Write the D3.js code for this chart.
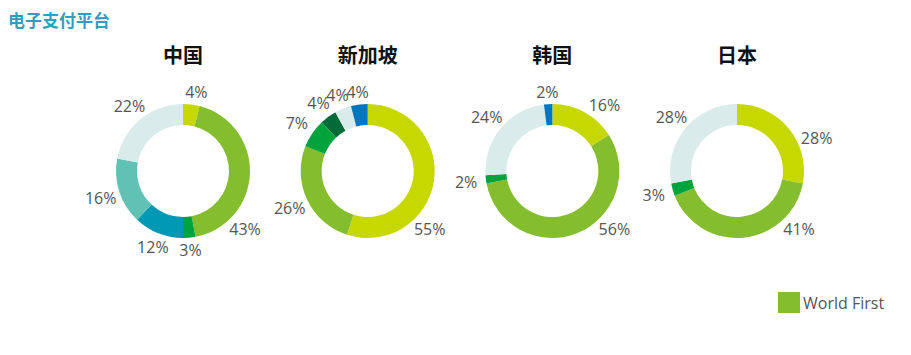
<!DOCTYPE html>
<html>
<head>
<meta charset="utf-8">
<script src="https://cdn.jsdelivr.net/npm/d3@7"></script>
<style>
  html, body { margin: 0; padding: 0; background: #ffffff; }
  svg { display: block; }
</style>
</head>
<body>
<svg id="chart" width="911" height="355"></svg>
<script>
// ---- data ----
const pageTitle = "电子支付平台";
const countries = ["中国", "新加坡", "韩国", "日本"];

// slice categories (clockwise from 12 o'clock) and their values, per country
const chinaKeys   = ["p1", "World First", "p3", "p4", "p5", "p6"];
const chinaValues = [4, 43, 3, 12, 16, 22];

const singaporeKeys   = ["p1", "World First", "p3", "p8", "p6", "p7"];
const singaporeValues = [55, 26, 7, 4, 4, 4];

const koreaKeys   = ["p1", "World First", "p3", "p6", "p7"];
const koreaValues = [16, 56, 2, 24, 2];

const japanKeys   = ["p1", "World First", "p3", "p6"];
const japanValues = [28, 41, 3, 28];

const legendItems = ["World First"];

// ---- styles ----
const colorMap = {
  "p1": "#c6d800",
  "World First": "#84bd2e",
  "p3": "#00a33c",
  "p4": "#0099b5",
  "p5": "#60c1b4",
  "p6": "#d9ebea",
  "p7": "#0076bf",
  "p8": "#046b38"
};

const datasets = [
  { name: countries[0], keys: chinaKeys, values: chinaValues },
  { name: countries[1], keys: singaporeKeys, values: singaporeValues },
  { name: countries[2], keys: koreaKeys, values: koreaValues },
  { name: countries[3], keys: japanKeys, values: japanValues }
];

const svg = d3.select("#chart");

svg.append("text")
  .attr("x", 8).attr("y", 22)
  .attr("dominant-baseline", "middle")
  .attr("font-family", "'Noto Sans CJK SC', sans-serif")
  .attr("font-weight", "bold")
  .attr("font-size", 17)
  .attr("fill", "#2e9fbc")
  .text(pageTitle);

const xPos = d3.scalePoint().domain(countries).range([183, 737]);
const cy = 171;
const outerR = 67, innerR = 46;
const anchorAngle = 133 * Math.PI / 180; // label spot for the slice crossing the lower-right

const pie = d3.pie().sort(null).value(d => d.value);
const arc = d3.arc().innerRadius(innerR).outerRadius(outerR);

datasets.forEach(ds => {
  const cx = xPos(ds.name);
  const g = svg.append("g").attr("transform", `translate(${cx},${cy})`);

  g.append("text")
    .attr("x", 0).attr("y", 58 - cy)
    .attr("text-anchor", "middle")
    .attr("dominant-baseline", "middle")
    .attr("font-family", "'Noto Sans CJK SC', sans-serif")
    .attr("font-weight", "bold")
    .attr("font-size", 20)
    .attr("fill", "#111")
    .text(ds.name);

  const rows = ds.keys.map((k, i) => ({ key: k, value: ds.values[i] }));
  const arcs = pie(rows);

  g.selectAll("path.slice").data(arcs).join("path")
    .attr("class", "slice")
    .attr("d", arc)
    .attr("fill", d => colorMap[d.data.key]);

  g.selectAll("text.lbl").data(arcs).join("text")
    .attr("class", "lbl")
    .each(function(d) {
      let a = (d.startAngle + d.endAngle) / 2;
      if (d.startAngle < anchorAngle && d.endAngle > anchorAngle && d.endAngle - d.startAngle > 1) {
        a = anchorAngle;
      } else if (a < Math.PI / 2) {
        a = d.startAngle + (d.endAngle - d.startAngle) * 2 / 3;
      }
      const r = 79 + 8 * Math.abs(Math.sin(a));
      d3.select(this)
        .attr("x", Math.sin(a) * r)
        .attr("y", -Math.cos(a) * r);
    })
    .attr("text-anchor", "middle")
    .attr("dominant-baseline", "central")
    .attr("font-family", "'Open Sans', sans-serif")
    .attr("font-size", 16)
    .attr("fill", "#555")
    .text(d => d.data.value + "%");
});

// legend
const lg = svg.append("g").attr("transform", "translate(778,292)");
legendItems.forEach((name, i) => {
  lg.append("rect").attr("x", 0).attr("y", i * 26).attr("width", 22).attr("height", 21)
    .attr("fill", colorMap[name]);
  lg.append("text").attr("x", 25).attr("y", i * 26 + 11)
    .attr("dominant-baseline", "central")
    .attr("font-family", "'Open Sans', sans-serif")
    .attr("font-size", 16)
    .attr("fill", "#555")
    .text(name);
});
</script>
</body>
</html>
